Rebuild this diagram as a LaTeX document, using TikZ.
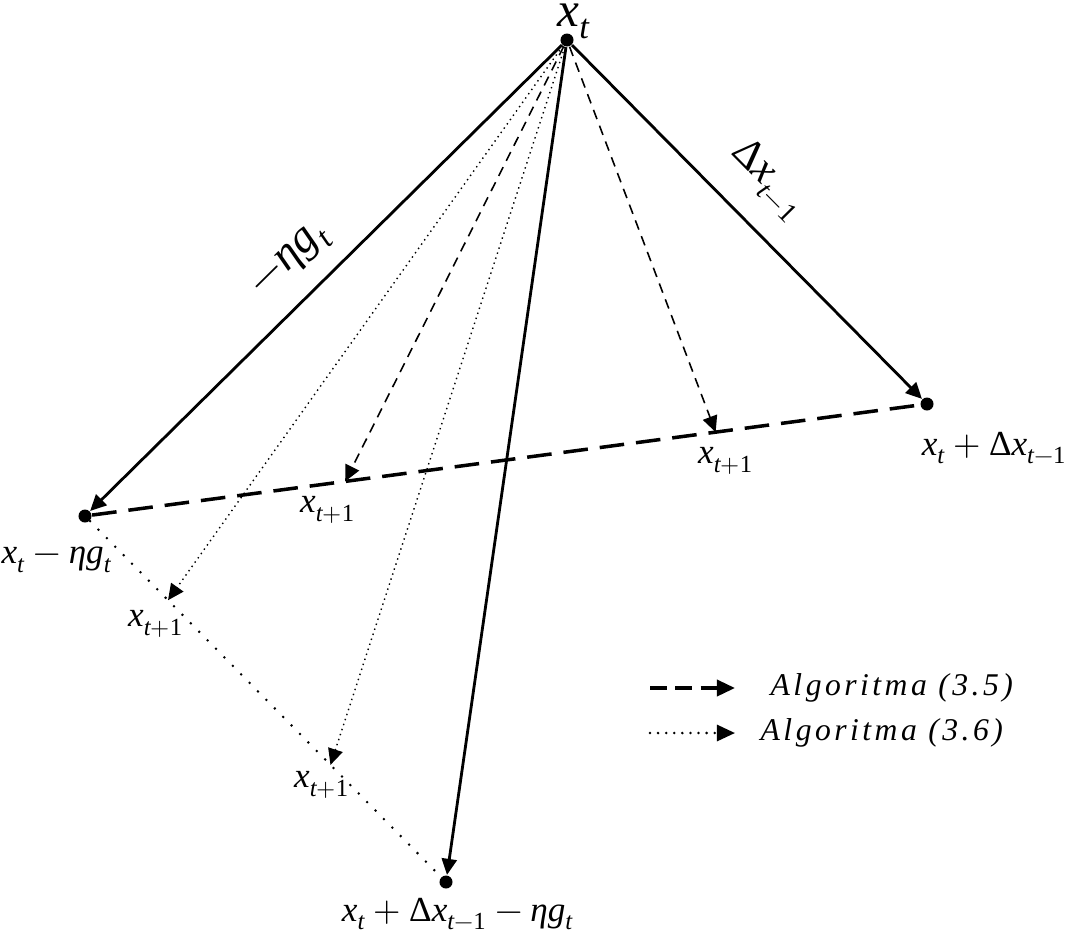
\documentclass[tikz,border=0pt]{standalone}
\usepackage{fontspec}
\usepackage{unicode-math}
\setmainfont{Liberation Serif}
\setmathfont{Latin Modern Math}
\setmathfont[range=it]{Liberation Serif Italic}
\setmathfont[range=up]{Liberation Serif}
\newfontfamily\legendfont[LetterSpace=11]{Liberation Serif}
\usetikzlibrary{calc,arrows.meta}
\tikzset{
  ptdot/.style={circle, fill=black, inner sep=0pt, minimum size=1.3mm},
  solidarrow/.style={-{Triangle[length=1.6mm,width=1.5mm]}, line width=0.8pt},
  dasharrow/.style={-{Triangle[length=1.6mm,width=1.5mm]}, line width=0.45pt, dash pattern=on 2.8pt off 2pt},
  dotarrow/.style={-{Triangle[length=1.6mm,width=1.5mm]}, line width=0.4pt, dash pattern=on 0.4pt off 1.1pt},
  dashline/.style={line width=1pt, dash pattern=on 7pt off 3.4pt},
  dotline/.style={line width=0.8pt, line cap=round, dash pattern=on 0pt off 3.4pt},
  ptlabel/.style={font=\fontsize{10}{12}\selectfont, inner sep=0pt},
  seglabel/.style={font=\fontsize{13}{15}\selectfont, sloped, inner sep=0pt},
  legendtext/.style={font=\fontsize{9}{11}\selectfont\legendfont\itshape, anchor=west, inner sep=0pt},
}

\begin{document}
\begin{tikzpicture}[x=0.01cm,y=-0.01cm]
  \useasboundingbox (0,0) rectangle (1081,941);

  % the four points
  \node[ptdot] (xt)  at (567,40)  {};
  \node[ptdot] (xg)  at (85,516)  {};
  \node[ptdot] (xd)  at (927,404) {};
  \node[ptdot] (xdg) at (446,882) {};

  % where the two algorithms land
  \coordinate (d1) at ($(xg)!0.309!(xd)$);
  \coordinate (d2) at ($(xg)!0.749!(xd)$);
  \coordinate (p1) at ($(xg)!0.23!(xdg)$);
  \coordinate (p2) at ($(xg)!0.68!(xdg)$);

  \draw[dashline] (xg) -- (xd);
  \draw[dotline] (xg) -- (xdg);

  \draw[dasharrow] (xt) -- (d1);
  \draw[dasharrow] (xt) -- (d2);
  \draw[dotarrow] (xt) -- (p1);
  \draw[dotarrow] (xt) -- (p2);

  \draw[solidarrow] (xt) -- node[seglabel, above=5pt, pos=0.52] {$-\eta g_t$} (xg);
  \draw[solidarrow] (xt) -- node[seglabel, above=7pt, pos=0.47, font=\fontsize{12}{14}\selectfont] {$\Delta x_{t-1}$} (xd);
  \draw[solidarrow] (xt) -- (xdg);

  % point labels
  \node[ptlabel, font=\fontsize{14}{16}\selectfont] (lxt) at (574,21) {$x_t$};
  \node[ptlabel] (lxg)  at (57,560)   {$x_t - \eta g_t$};
  \node[ptlabel, anchor=east] (lxd) at (1068,448) {$x_t + \Delta x_{t-1}$};
  \node[ptlabel] (lxdg) at (458,914)  {$x_t + \Delta x_{t-1} - \eta g_t$};
  \node[ptlabel] (ld1) at (328,510) {$x_{t+1}$};
  \node[ptlabel] (ld2) at (726,461) {$x_{t+1}$};
  \node[ptlabel] (lp1) at (156,624) {$x_{t+1}$};
  \node[ptlabel] (lp2) at (322,785) {$x_{t+1}$};

  % legend
  \node[legendtext] (leg1) at (770,688) {Algoritma (3.5)};
  \node[legendtext] (leg2) at (760,733) {Algoritma (3.6)};
  \coordinate (leg1a) at (650,688);
  \coordinate (leg2a) at (650,733);
  \draw[line width=1pt, dash pattern=on 4.8pt off 2.4pt, -{Triangle[length=1.8mm,width=1.6mm]}] (leg1a) -- (735,688);
  \draw[dotline, dash pattern=on 0pt off 2.3pt, -{Triangle[length=1.8mm,width=1.6mm]}] (leg2a) -- (735,733);
\end{tikzpicture}
\end{document}
